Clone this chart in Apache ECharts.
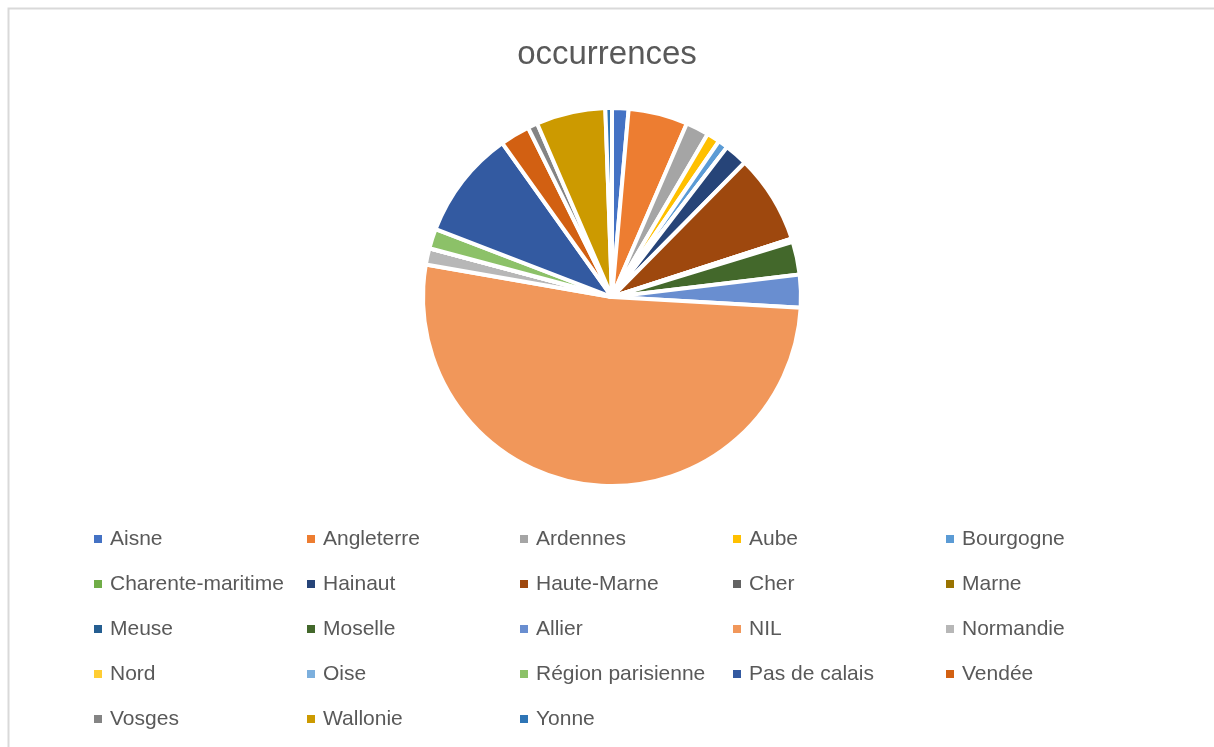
<!DOCTYPE html>
<html>
<head>
<meta charset="utf-8">
<script src="https://cdn.jsdelivr.net/npm/echarts@6/dist/echarts.min.js"></script>
<style>
html,body{margin:0;padding:0;background:#fff;}
#c{width:1214px;height:747px;}
</style>
</head>
<body>
<div id="c"></div>
<script>
const categories = ["Aisne","Angleterre","Ardennes","Aube","Bourgogne","Charente-maritime","Hainaut","Haute-Marne","Cher","Marne","Meuse","Moselle","Allier","NIL","Normandie","Nord","Oise","Région parisienne","Pas de calais","Vendée","Vosges","Wallonie","Yonne"];
const occurrences = [5,18,7,4,3,0,7,27,0,1,0,10,10,184,5,0,0,6,33,9,3,21,2];
const colors = ["#4472C4","#ED7D31","#A5A5A5","#FFC000","#5B9BD5","#70AD47","#264478","#9E480E","#636363","#997300","#255E91","#43682B","#698ED0","#F1975A","#B7B7B7","#FFCD33","#7CAFDD","#8CC168","#335AA1","#D26012","#848484","#CC9A00","#2E75B6"];
const titleText = "occurrences";

const chart = echarts.init(document.getElementById('c'), null, {renderer:'canvas'});
const colLefts = [87, 300, 513, 726, 939];
const legends = colLefts.map((x, k) => ({
  orient: 'vertical',
  left: x,
  top: 523,
  itemWidth: 10,
  itemHeight: 10,
  itemGap: 23,
  icon: 'rect',
  selectedMode: false,
  data: categories.filter((_, i) => i % 5 === k),
  textStyle: {fontFamily: 'Liberation Sans', fontSize: 21, color: '#595959', height: 22, lineHeight: 22, padding: [0,0,0,2]}
}));

chart.setOption({
  animation: false,
  color: colors,
  title: {
    text: titleText,
    left: 'center',
    top: 33,
    textStyle: {fontFamily: 'Liberation Sans', fontSize: 33, fontWeight: 'normal', color: '#595959'}
  },
  graphic: [{
    type: 'rect',
    shape: {x: 8.5, y: 8.5, width: 1300, height: 800},
    style: {fill: null, stroke: '#d9d9d9', lineWidth: 2},
    silent: true
  }],
  legend: legends,
  series: [{
    type: 'pie',
    center: [612, 297],
    radius: [0, 189],
    startAngle: 90,
    clockwise: true,
    label: {show: false},
    labelLine: {show: false},
    emphasis: {disabled: true},
    itemStyle: {borderColor: '#ffffff', borderWidth: 4},
    data: categories.map((n, i) => ({name: n, value: occurrences[i]}))
  }]
});
</script>
</body>
</html>
